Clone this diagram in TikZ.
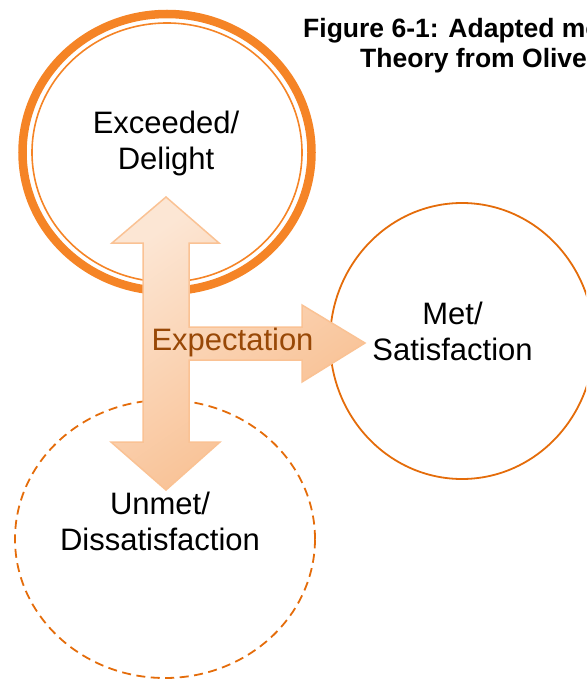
\documentclass[tikz,border=0pt]{standalone}
\usepackage{fontspec}
\setmainfont{Liberation Sans}
\usetikzlibrary{shapes.geometric}

\definecolor{ringorange}{RGB}{245,132,38}
\definecolor{lineorange}{RGB}{228,108,10}
\definecolor{arrowlight}{RGB}{252,230,212}
\definecolor{arrowdark}{RGB}{248,186,136}
\definecolor{arrowedge}{RGB}{250,194,148}
\definecolor{exptext}{RGB}{152,72,7}

\begin{document}
\begin{tikzpicture}[x=1pt,y=-1pt,
  outcome/.style={ellipse, inner sep=0pt, outer sep=0pt},
  caption/.style={font=\fontsize{31}{36}\selectfont, align=center, inner sep=0pt},
  heading/.style={font=\bfseries\fontsize{26.5}{30}\selectfont, inner sep=0pt, anchor=base west},
  blockarrow/.style={draw=arrowedge, line width=1.5pt, line join=miter,
    top color=arrowlight, bottom color=arrowdark, shading angle=35}
]
\useasboundingbox (0,0) rectangle (586,679);
\clip (0,0) rectangle (586,679);

% outcome regions
\node[outcome, draw=ringorange, line width=8.5pt,
      minimum width=289pt, minimum height=277pt] (exceeded) at (167,152.5) {};
\draw[ringorange, line width=1.6pt] (exceeded.center) ellipse [x radius=135, y radius=129.5];

\node[outcome, draw=lineorange, line width=1.8pt,
      minimum width=264pt, minimum height=276pt] (met) at (462,341) {};

\node[outcome, draw=lineorange, line width=1.8pt, dash pattern=on 9pt off 5.5pt,
      minimum width=300pt, minimum height=278pt] (unmet) at (165,539) {};

% expectation arrows: up/down double arrow with a branch to the right
\path[blockarrow]
  (166,197) -- (219,243) -- (189,243) -- (189,327) -- (302,327) -- (302,305)
  -- (365,343) -- (302,382) -- (302,360) -- (189,360) -- (189,442) -- (220,442)
  -- (166,490) -- (111,442) -- (143,442) -- (143,243) -- (112,243) -- cycle;

% labels (base anchor sits on the last line)
\node[caption, anchor=base] (exceededtext) at (166,170) {Exceeded/\\Delight};
\node[caption, anchor=base] (mettext) at (452.5,360.5) {Met/\\Satisfaction};
\node[caption, anchor=base] (unmettext) at (160,550.7) {Unmet/\\Dissatisfaction};
\node[caption, anchor=base, text=exptext] (expect) at (232.5,350) {Expectation};

% figure heading
\node[heading] (title1) at (303,38) {Figure 6-1: Adapted mo};
\node[heading] (title2) at (360,68) {Theory from Olive};
\end{tikzpicture}
\end{document}
